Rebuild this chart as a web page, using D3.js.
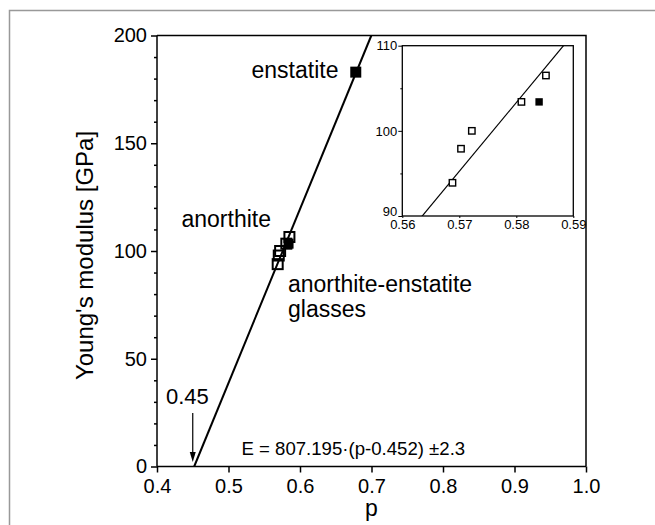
<!DOCTYPE html>
<html>
<head>
<meta charset="utf-8">
<script src="https://cdn.jsdelivr.net/npm/d3@7"></script>
<style>
  body { margin: 0; background: #fff; }
  svg text { font-family: Arial, "Liberation Sans", sans-serif; fill: #000; }
</style>
</head>
<body>
<div id="chart"></div>
<script>
// glasses (open squares), anorthite, enstatite
var glassP = [0.5688, 0.5703, 0.5722, 0.5809, 0.5852];
var glassE = [93.9, 97.9, 100.0, 103.4, 106.5];
var anorthiteP = [0.584];
var anorthiteE = [103.4];
var enstatiteP = [0.678];
var enstatiteE = [183];

// fit E = 807.195*(p-0.452)
var fitSlope = 807.195, fitP0 = 0.452;

var xTicks = [0.4, 0.5, 0.6, 0.7, 0.8, 0.9, 1.0];
var yTicks = [0, 50, 100, 150, 200];
var insetXTicks = [0.56, 0.57, 0.58, 0.59];
var insetYTicks = [90, 100, 110];

var W = 655, H = 525;
var svg = d3.select("#chart").append("svg")
  .attr("width", W).attr("height", H);

// grey frame
svg.append("path")
  .attr("d", "M9.5," + H + "V10.5H" + W)
  .attr("fill", "none").attr("stroke", "#999").attr("stroke-width", 1.5);

var x = d3.scaleLinear().domain([0.4, 1.0]).range([157, 586]);
var y = d3.scaleLinear().domain([0, 200]).range([466.5, 35.5]);

svg.append("defs").append("clipPath").attr("id", "mainclip")
  .append("rect").attr("x", x(0.4)).attr("y", y(200))
  .attr("width", x(1.0) - x(0.4)).attr("height", y(0) - y(200));

// fit line
function fitE(p) { return fitSlope * (p - fitP0); }
svg.append("line")
  .attr("clip-path", "url(#mainclip)")
  .attr("x1", x(fitP0)).attr("y1", y(0))
  .attr("x2", x(fitP0 + 200 / fitSlope)).attr("y2", y(200))
  .attr("stroke", "#000").attr("stroke-width", 2);

// box top / right
svg.append("path")
  .attr("d", "M" + x(0.4) + "," + y(200) + "H" + x(1.0) + "V" + y(0))
  .attr("fill", "none").attr("stroke", "#000").attr("stroke-width", 1.5);

// axes
var xAxis = svg.append("g")
  .attr("transform", "translate(0," + y(0) + ")")
  .call(d3.axisBottom(x).tickValues(xTicks).tickSize(6).tickPadding(6)
    .tickFormat(d3.format(".1f")));
var yMinor = d3.range(0, 201, 10).filter(function(d) { return d % 50 !== 0; });
svg.append("g")
  .attr("transform", "translate(" + x(0.4) + ",0)")
  .call(d3.axisLeft(y).tickValues(yMinor).tickSize(3).tickFormat(""))
  .call(function(g) { g.select(".domain").remove(); });
var yAxis = svg.append("g")
  .attr("transform", "translate(" + x(0.4) + ",0)")
  .call(d3.axisLeft(y).tickValues(yTicks).tickSize(6).tickPadding(4));
[xAxis, yAxis].forEach(function(g) {
  g.selectAll("text").style("font-size", "20px").attr("fill", "#000");
  g.selectAll("line,path").attr("stroke", "#000").attr("stroke-width", 1.5);
  g.select(".domain").attr("d", g === xAxis
    ? "M" + x(0.4) + ",0H" + x(1.0) : "M0," + y(0) + "V" + y(200));
});
svg.selectAll("g line").attr("stroke", "#000").attr("stroke-width", 1.5);

// axis titles
svg.append("text").attr("x", x(0.7)).attr("y", 516)
  .attr("text-anchor", "middle").style("font-size", "23px").text("p");
svg.append("text")
  .attr("transform", "translate(93," + 255.5 + ") rotate(-90)")
  .attr("text-anchor", "middle").style("font-size", "24px")
  .text("Young's modulus [GPa]");

// markers main
svg.selectAll(".glass").data(glassP).enter().append("rect")
  .attr("x", function(d) { return x(d) - 5; })
  .attr("y", function(d, i) { return y(glassE[i]) - 5; })
  .attr("width", 10).attr("height", 10)
  .attr("fill", "none").attr("stroke", "#000").attr("stroke-width", 2);
svg.selectAll(".anor").data(anorthiteP).enter().append("rect")
  .attr("x", function(d) { return x(d) - 5; })
  .attr("y", function(d, i) { return y(anorthiteE[i]) - 5; })
  .attr("width", 10).attr("height", 10).attr("fill", "#000");
svg.selectAll(".enst").data(enstatiteP).enter().append("rect")
  .attr("x", function(d) { return x(d) - 5.5; })
  .attr("y", function(d, i) { return y(enstatiteE[i]) - 5.5; })
  .attr("width", 11).attr("height", 11).attr("fill", "#000");

// labels
function label(tx, ty, s, size) {
  return svg.append("text").attr("x", tx).attr("y", ty)
    .style("font-size", size + "px").text(s);
}
label(251.5, 77.5, "enstatite", 23);
label(181.5, 227, "anorthite", 23);
label(288, 292, "anorthite-enstatite", 23);
label(288, 317, "glasses", 23);
label(166, 404, "0.45", 22);
label(241.5, 455, "E = 807.195\u00b7(p-0.452) \u00b12.3", 18.6);

// arrow to 0.45
svg.append("line").attr("x1", x(0.45)).attr("x2", x(0.45))
  .attr("y1", 413).attr("y2", 455).attr("stroke", "#000").attr("stroke-width", 1.2);
svg.append("path")
  .attr("d", "M" + (x(0.45) - 3) + ",452L" + x(0.45) + ",462L" + (x(0.45) + 3) + ",452Z")
  .attr("fill", "#000");

// inset
var ix = d3.scaleLinear().domain([0.56, 0.59]).range([402.3, 573.3]);
var iy = d3.scaleLinear().domain([90, 110]).range([216, 45.7]);

svg.append("defs").append("clipPath").attr("id", "insetclip")
  .append("rect").attr("x", ix(0.56)).attr("y", iy(110))
  .attr("width", ix(0.59) - ix(0.56)).attr("height", iy(90) - iy(110));

svg.append("line").attr("clip-path", "url(#insetclip)")
  .attr("x1", ix(0.56)).attr("y1", iy(fitE(0.56)))
  .attr("x2", ix(0.59)).attr("y2", iy(fitE(0.59)))
  .attr("stroke", "#000").attr("stroke-width", 1.2);

svg.append("rect").attr("x", ix(0.56)).attr("y", iy(110))
  .attr("width", ix(0.59) - ix(0.56)).attr("height", iy(90) - iy(110))
  .attr("fill", "none").attr("stroke", "#000").attr("stroke-width", 1.3);

var ixAxis = svg.append("g").attr("transform", "translate(0," + iy(90) + ")")
  .call(d3.axisBottom(ix).tickValues(insetXTicks).tickSize(2).tickPadding(2)
    .tickFormat(d3.format(".2f")));
svg.append("g").attr("transform", "translate(" + ix(0.56) + ",0)")
  .call(d3.axisLeft(iy).tickValues([95, 105]).tickSize(2).tickFormat(""))
  .call(function(g) { g.select(".domain").remove(); });
var iyAxis = svg.append("g").attr("transform", "translate(" + ix(0.56) + ",0)")
  .call(d3.axisLeft(iy).tickValues(insetYTicks).tickSize(4).tickPadding(1));
[ixAxis, iyAxis].forEach(function(g) {
  g.selectAll("text").style("font-size", "13px").attr("fill", "#000");
  g.select(".domain").remove();
});
// lift the "90" label a little so it clears "0.56"
iyAxis.selectAll(".tick").filter(function(d) { return d === 90; })
  .select("text").attr("dy", "-0.05em");
svg.selectAll("g line").attr("stroke", "#000");

svg.selectAll(".iglass").data(glassP).enter().append("rect")
  .attr("x", function(d) { return ix(d) - 3.2; })
  .attr("y", function(d, i) { return iy(glassE[i]) - 3.2; })
  .attr("width", 6.4).attr("height", 6.4)
  .attr("fill", "#fff").attr("stroke", "#000").attr("stroke-width", 1.4);
svg.selectAll(".ianor").data(anorthiteP).enter().append("rect")
  .attr("x", function(d) { return ix(d) - 3.7; })
  .attr("y", function(d, i) { return iy(anorthiteE[i]) - 3.7; })
  .attr("width", 7.4).attr("height", 7.4).attr("fill", "#000");
</script>
</body>
</html>
